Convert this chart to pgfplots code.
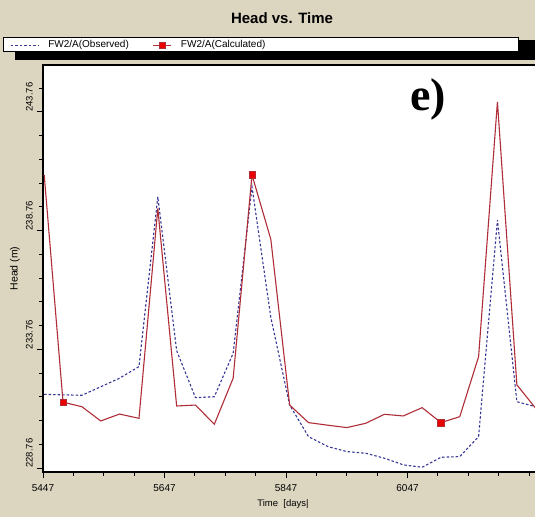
\documentclass[border=0pt]{standalone}
\usepackage{pgfplots}
\pgfplotsset{compat=1.18}
\usepackage{fontspec}
\setmainfont{Liberation Sans}
\newfontfamily\serifb{Liberation Serif}
\definecolor{bgbeige}{RGB}{220,214,192}
\definecolor{obsblue}{RGB}{55,55,150}
\definecolor{calcred}{RGB}{175,45,55}
\definecolor{mkred}{RGB}{235,0,0}
\pgfplotsset{
  obsleg/.style={legend image code/.code={\draw[##1] (0pt,0pt) -- (28pt,0pt);}},
  calcleg/.style={legend image code/.code={\draw[##1,mark repeat=2,mark phase=2] plot coordinates {(0pt,0pt) (9pt,0pt) (18pt,0pt)};}},
}
\begin{document}
\begin{tikzpicture}[x=1pt,y=1pt]
\clip (0,0) rectangle (535,517);
\fill[bgbeige] (0,0) rectangle (535,517);
\node[font=\bfseries\fontsize{15}{18}\selectfont] at (282,499) {Head vs. Time};
% legend frame with shadow
\fill[black] (15,457) rectangle (540,465);
\fill[black] (518,457) rectangle (540,477);
\fill[white,draw=black,line width=0.8pt] (3,466) rectangle (518,480);
\begin{axis}[
  at={(43pt,45pt)}, anchor=south west, scale only axis,
  width=500pt, height=407pt,
  xmin=5447, xmax=6270, ymin=228.59, ymax=245.73,
  axis background/.style={fill=white},
  axis line style={line width=1.1pt},
  tick pos=left, tick align=outside,
  major tick length=6pt, minor tick length=3.5pt,
  every tick/.style={black, line width=0.8pt},
  xtick={5447,5647,5847,6047}, xticklabels={5447,5647,5847,6047},
  minor xtick={5497,5547,5597,5697,5747,5797,5897,5947,5997,6097,6147,6197,6247},
  ytick={228.76,233.76,238.76,243.76}, yticklabels={228.76,233.76,238.76,243.76},
  minor ytick={229.76,230.76,231.76,232.76,234.76,235.76,236.76,237.76,239.76,240.76,241.76,242.76,244.76},
  xticklabel style={anchor=north, inner sep=6.5pt, font=\fontsize{10}{12}\selectfont},
  yticklabel style={rotate=90, anchor=south west, inner xsep=0pt, inner ysep=4pt, font=\fontsize{9.5}{11}\selectfont},
  xlabel={Time\ \ [days|},
  ylabel={Head (m)},
  every axis x label/.style={at={(axis description cs:0.48,-0.078)}, anchor=center, font=\fontsize{9.5}{11}\selectfont},
  every axis y label/.style={at={(axis description cs:-0.056,0.5)}, rotate=90, anchor=center, font=\fontsize{10.5}{12}\selectfont},
  legend columns=2,
  legend style={draw=none, fill=none, at={(axis description cs:-0.066,1.049)}, anchor=west,
    font=\fontsize{10}{12}\selectfont, inner sep=0pt,
    /tikz/every odd column/.append style={column sep=7pt},
    /tikz/every even column/.append style={column sep=22pt}},
  legend cell align=left,
]
\addplot[obsblue, line width=1.1pt, dash pattern=on 2.5pt off 2pt, obsleg]
coordinates {
(5449,231.86) (5480,231.84) (5511,231.82) (5542,232.18) (5573,232.54)
(5605,233.03) (5636,240.18) (5667,233.70) (5698,231.72) (5729,231.76)
(5760,233.59) (5791,240.60) (5822,235.10) (5853,231.41) (5884,230.08)
(5916,229.66) (5947,229.45) (5978,229.38) (6009,229.17) (6040,228.89)
(6071,228.79) (6102,229.21) (6133,229.24) (6164,230.08) (6195,239.20)
(6227,231.55) (6258,231.34)
};
\addlegendentry{FW2/A(Observed)}
\addplot[calcred, line width=1.1pt, mark=square*, mark size=3.2pt,
  mark repeat=10, mark phase=2,
  mark options={solid, fill=mkred, draw=calcred, line width=0.5pt}, calcleg]
coordinates {
(5449,241.10) (5480,231.53) (5511,231.34) (5542,230.74) (5573,231.03)
(5605,230.85) (5636,239.69) (5667,231.37) (5698,231.41) (5729,230.60)
(5760,232.54) (5791,241.10) (5822,238.39) (5853,231.41) (5884,230.67)
(5916,230.56) (5947,230.46) (5978,230.64) (6009,231.02) (6040,230.95)
(6071,231.30) (6102,230.67) (6133,230.92) (6164,233.45) (6195,244.18)
(6227,232.26) (6258,231.27)
};
\addlegendentry{FW2/A(Calculated)}
\end{axis}
\node[font=\serifb\bfseries\fontsize{46}{50}\selectfont] at (428,418) {e)};
\end{tikzpicture}
\end{document}
